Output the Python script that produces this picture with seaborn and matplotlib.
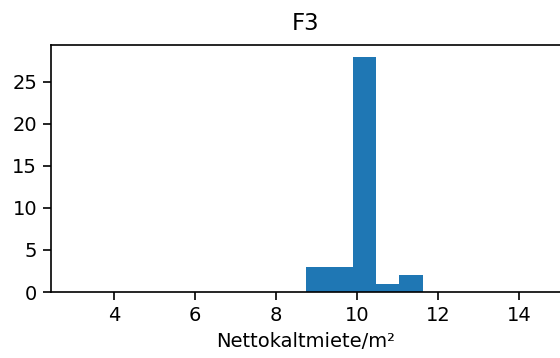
import matplotlib
matplotlib.use("Agg")
import matplotlib.pyplot as plt
import seaborn as sns
import numpy as np

# Histogram of net cold rent per m² for building F3 (5 equal-width bins)
bin_edges = [8.74, 9.316, 9.892, 10.468, 11.044, 11.62]
bin_counts = [3, 3, 28, 1, 2]
bin_centers = [(a + b) / 2 for a, b in zip(bin_edges[:-1], bin_edges[1:])]

x_ticks = [4, 6, 8, 10, 12, 14]
y_ticks = [0, 5, 10, 15, 20, 25]
x_limits = (2.44, 15.04)

sns.set_style("ticks")
plt.rcParams["font.family"] = ["DejaVu Sans"]
plt.rcParams["text.color"] = "black"
plt.rcParams["axes.labelcolor"] = "black"
plt.rcParams["xtick.color"] = "black"
plt.rcParams["ytick.color"] = "black"

fig = plt.figure(figsize=(5.6, 3.58), dpi=100)
ax = fig.add_axes([51 / 560, 66 / 358, 510 / 560, 247 / 358])

sns.histplot(x=bin_centers, weights=bin_counts, bins=bin_edges, ax=ax,
             color="#1f77b4", alpha=1.0, edgecolor="none", linewidth=0)

ax.set_xlim(*x_limits)
ax.set_xticks(x_ticks)
ax.set_yticks(y_ticks)
ax.set_ylabel("")
ax.set_xlabel("Nettokaltmiete/m²", fontsize=14, labelpad=5)
ax.set_title("F3", fontsize=16.5, pad=11)
ax.tick_params(labelsize=14, length=6, width=1.2, colors="black", pad=4)
for s in ["left", "bottom", "top"]:
    ax.spines[s].set_color("black")
    ax.spines[s].set_linewidth(1.2)
ax.spines["right"].set_visible(False)

fig.savefig("out.png", dpi=100)
